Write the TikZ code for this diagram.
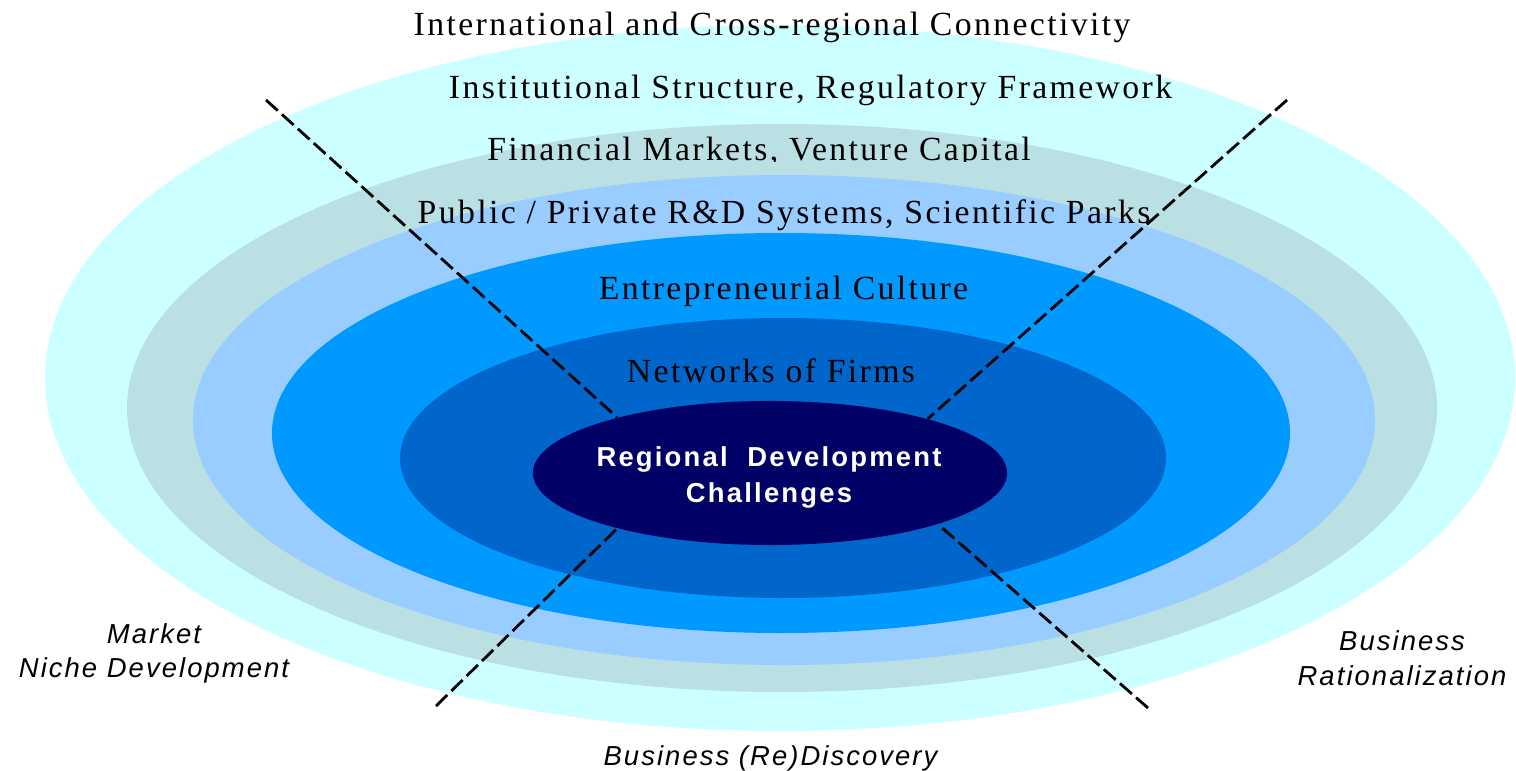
\documentclass[tikz,border=0pt]{standalone}
\usepackage{fontspec}
\setmainfont{Liberation Serif}
\newfontfamily\bandfont{Liberation Serif}[LetterSpace=7]
\newfontfamily\sidefont{Liberation Sans}[LetterSpace=7.5]
\newfontfamily\corefont{Liberation Sans}[LetterSpace=8]
\usetikzlibrary{shapes.geometric}

\definecolor{ring1}{HTML}{CCFFFF}
\definecolor{ring2}{HTML}{BBE0E3}
\definecolor{ring3}{HTML}{99CCFF}
\definecolor{ring4}{HTML}{0099FF}
\definecolor{ring5}{HTML}{0066CC}
\definecolor{ring6}{HTML}{000066}

\begin{document}
\begin{tikzpicture}[x=0.01cm,y=-0.01cm,
                    band/.style={anchor=base,font=\bandfont\fontsize{9.6}{11}\selectfont},
                    side/.style={align=center,font=\sidefont\itshape\fontsize{7.8}{9.8}\selectfont},
                    core/.style={ellipse,fill=ring6,minimum width=4.74cm,minimum height=1.44cm,inner sep=0pt},
                    coretext/.style={align=center,text=white,font=\corefont\bfseries\fontsize{7.8}{10}\selectfont},
                    cut/.style={line width=0.8pt,dash pattern=on 4.5pt off 1.6pt}]

  \useasboundingbox (0,0) rectangle (1516,770);

  % rings, outside in
  \fill[ring1] (780,378) ellipse [x radius=735, y radius=353];
  \fill[ring2] (782,408) ellipse [x radius=655, y radius=284];
  \fill[ring3] (784,420) ellipse [x radius=591, y radius=245];
  \fill[ring4] (781,433) ellipse [x radius=509, y radius=200];
  \fill[ring5] (783,458) ellipse [x radius=383, y radius=140];

  \node[core]     (core)  at (770,473)   {};
  \node[coretext] (title) at (769,477.5) {Regional~~Development\\Challenges};

  \coordinate (ul) at (266,100);
  \coordinate (ur) at (1287,100);
  \coordinate (ll) at (436,706);
  \coordinate (lr) at (1148,708);

  \path (ul) edge[cut] (core.160)
        (ur) edge[cut] (core.19)
        (ll) edge[cut] (core.200)
        (lr) edge[cut] (core.343);

  \node[band] (b1) at (772,36)    {International and Cross-regional Connectivity};
  \node[band] (b2) at (810.5,99)  {Institutional Structure, Regulatory Framework};
  \begin{scope}
    \clip (0,0) rectangle (1516,162);
    \node[band] (b3) at (759,161) {Financial Markets, Venture Capital};
  \end{scope}
  \node[band] (b4) at (784,223)   {Public / Private R\&D Systems, Scientific Parks};
  \node[band] (b5) at (783.5,299) {Entrepreneurial Culture};
  \node[band] (b6) at (771,382)   {Networks of Firms};

  \node[side] (niche)  at (154,653.5) {Market\\Niche Development};
  \node[side] (ratio)  at (1402,658)  {Business\\Rationalization};
  \node[side,anchor=base] (disc) at (770.5,765) {Business (Re)Discovery};
\end{tikzpicture}
\end{document}
